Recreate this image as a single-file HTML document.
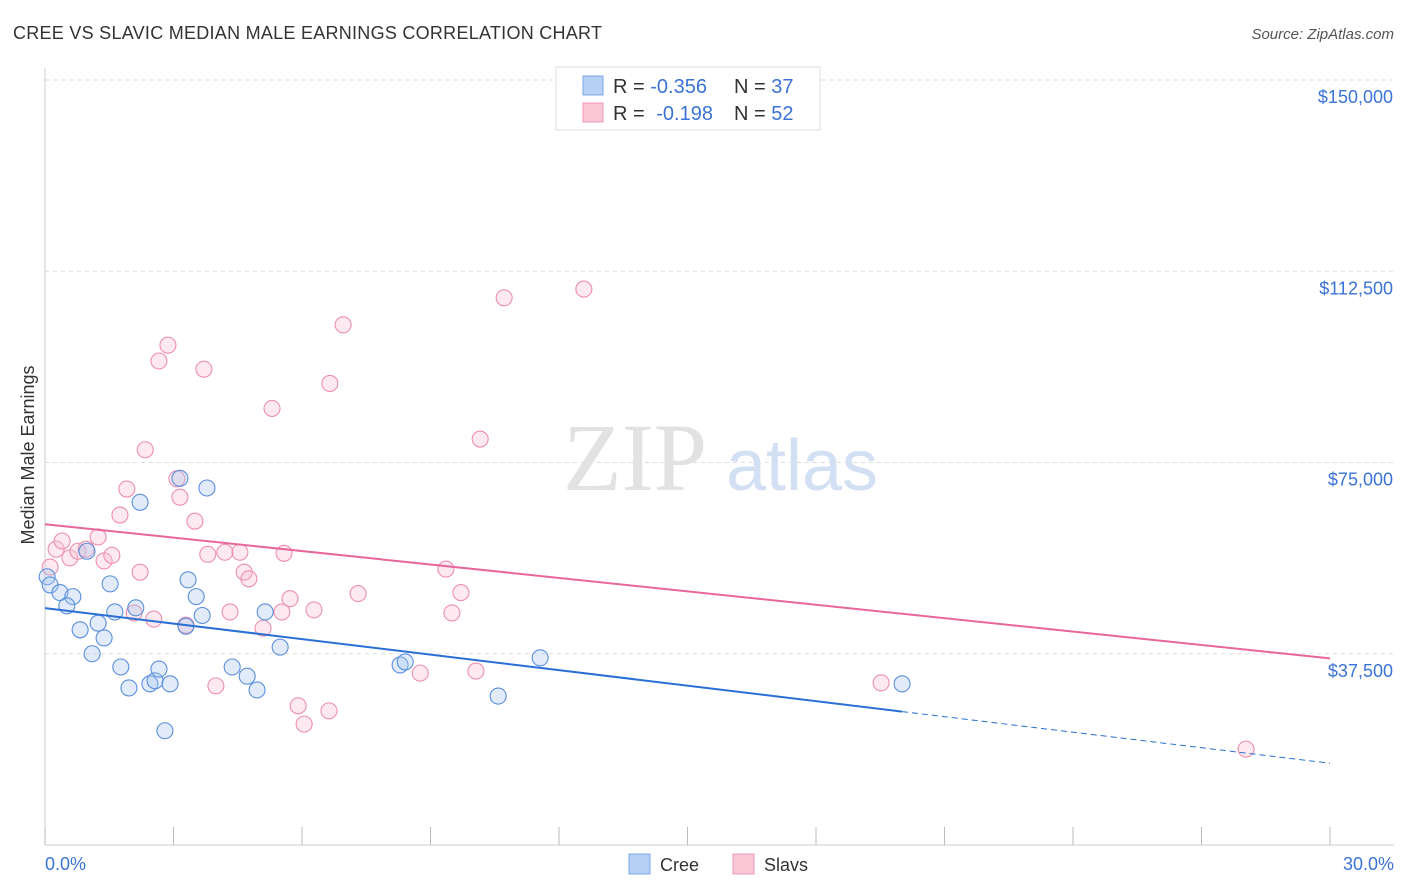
<!DOCTYPE html>
<html><head><meta charset="utf-8"><style>
body{margin:0;background:#fff;font-family:"Liberation Sans",sans-serif}
svg{display:block}
</style></head><body>
<svg id="chart" width="1406" height="892">
<text x="13" y="39" font-size="18" fill="#333" textLength="589">CREE VS SLAVIC MEDIAN MALE EARNINGS CORRELATION CHART</text>
<text x="1394" y="39" font-size="15" fill="#555" font-style="italic" text-anchor="end">Source: ZipAtlas.com</text>
<g id="grid"></g>
<text x="635" y="490" font-size="96" fill="#e2e2e2" font-family="Liberation Serif" text-anchor="middle">ZIP</text>
<text x="802" y="490" font-size="72" fill="#d3e0f3" text-anchor="middle">atlas</text>
<text transform="translate(34,455) rotate(-90)" font-size="18" fill="#333" text-anchor="middle">Median Male Earnings</text>
<g id="marks"></g>
<g>
<rect x="556" y="67" width="264" height="63" fill="#fff" stroke="#ddd"/>
<rect x="583" y="76" width="20" height="19" fill="#b7d0f5" stroke="#7ea6e6"/>
<rect x="583" y="103" width="20" height="19" fill="#f9c6d6" stroke="#ee9ab5"/>
<text x="613" y="93" font-size="20" fill="#333">R = <tspan fill="#3b73d6">-0.356</tspan><tspan x="734">N = </tspan><tspan fill="#3b73d6">37</tspan></text>
<text x="613" y="120" font-size="20" fill="#333">R = <tspan fill="#3b73d6" dx="6">-0.198</tspan><tspan x="734">N = </tspan><tspan fill="#3b73d6">52</tspan></text>
</g>
<g>
<rect x="629" y="854" width="21" height="20" fill="#b7d0f5" stroke="#7ea6e6"/>
<text x="660" y="871" font-size="18" fill="#333">Cree</text>
<rect x="733" y="854" width="21" height="20" fill="#f9c6d6" stroke="#ee9ab5"/>
<text x="764" y="871" font-size="18" fill="#333">Slavs</text>
</g>
<text x="45" y="870" font-size="18" fill="#3b73d6">0.0%</text>
<text x="1394" y="870" font-size="18" fill="#3b73d6" text-anchor="end">30.0%</text>
</svg>
<script>
const yTicks=[37500,75000,112500,150000];
const yTickLabels=["$37,500","$75,000","$112,500","$150,000"];
const xTicks=[0,3,6,9,12,15,18,21,24,27,30];
const creeX=[0.05,0.12,0.35,0.65,0.51,0.82,1.1,1.24,1.38,0.98,1.52,1.63,1.77,1.96,2.12,2.22,2.45,2.57,2.66,2.92,2.8,3.15,3.34,3.53,3.67,3.29,3.78,4.37,4.72,4.95,5.14,5.49,8.29,8.41,10.58,11.56,20.01];
const creeY=[52600,51000,49500,48700,46900,42200,37500,43500,40600,57600,51200,45700,34900,30800,46500,67200,31600,32200,34500,31600,22400,71900,52000,48700,45000,42900,70000,34900,33100,30400,45700,38800,35300,35900,29200,36700,31600];
const slavX=[0.12,0.26,0.4,0.58,0.77,0.96,1.24,1.38,1.56,1.75,1.91,2.08,2.22,2.34,2.54,2.66,2.87,3.08,3.15,3.29,3.5,3.71,3.8,3.99,4.32,4.55,4.65,4.76,4.2,5.09,5.3,5.53,5.58,5.72,5.91,6.05,6.28,6.65,6.63,6.96,7.31,8.76,9.36,9.5,9.71,10.06,10.16,10.72,12.58,19.52,28.04];
const slavY=[54500,58000,59600,56300,57600,58000,60400,55700,56800,64700,69800,45500,53500,77500,44300,94900,98000,71800,68200,43100,63500,93300,57000,31200,45700,57400,53500,52200,57400,42500,85600,45700,57200,48300,27300,23700,46100,90500,26300,102000,49300,33700,54100,45500,49500,34100,79600,107300,109000,31800,18800];
const X0=45,X1=1330,Y0=845,YMAX=150000,YTOP=80;
const xs=v=>X0+(X1-X0)*v/30, ys=v=>Y0-(Y0-YTOP)*v/YMAX;
const NS="http://www.w3.org/2000/svg";
function mk(t,a,p){const e=document.createElementNS(NS,t);for(const k in a)e.setAttribute(k,a[k]);p.appendChild(e);return e;}
const grid=document.getElementById('grid'),marks=document.getElementById('marks');
yTicks.forEach((v,i)=>{
 const l=mk('line',{x1:45,x2:1394,y1:ys(v),y2:ys(v),stroke:'#ddd','stroke-dasharray':'4,4'},grid);
 
 
 const t=mk('text',{x:1393,y:ys(v)+23,'font-size':18,fill:'#3b73d6','text-anchor':'end'},grid);
 t.textContent=yTickLabels[i];
 
 
});
mk('line',{x1:45,x2:45,y1:68,y2:845,stroke:'#ccc'},grid);
mk('line',{x1:45,x2:1394,y1:845,y2:845,stroke:'#ccc'},grid);
xTicks.forEach(v=>{const l=mk('line',{x1:xs(v),x2:xs(v),y1:827,y2:845,stroke:'#bbb'},grid);
 
 });
function fit(X,Y){const n=X.length,mx=X.reduce((a,b)=>a+b)/n,my=Y.reduce((a,b)=>a+b)/n;let sxy=0,sxx=0;for(let i=0;i<n;i++){sxy+=(X[i]-mx)*(Y[i]-my);sxx+=(X[i]-mx)**2;}const b=sxy/sxx;return [my-b*mx,b];}
function pts(X,Y,fill,stroke,name){X.forEach((x,i)=>{const c=mk('circle',{cx:xs(x),cy:ys(Y[i]),r:8,fill:fill,'fill-opacity':0.35,stroke:stroke,'stroke-width':1.1},marks);
 
 });}
pts(slavX,slavY,'#f9c0d2','#ec8fae','slavs-point');
pts(creeX,creeY,'#a9c6f2','#5a8fdc','cree-point');
let [a,b]=fit(creeX,creeY);
const xmax=Math.max(...creeX);
let l=mk('line',{x1:xs(0),y1:ys(a),x2:xs(xmax),y2:ys(a+b*xmax),stroke:'#2a6fd6','stroke-width':2},marks);


l=mk('line',{x1:xs(xmax),y1:ys(a+b*xmax),x2:xs(30),y2:ys(a+b*30),stroke:'#2a6fd6','stroke-width':1,'stroke-dasharray':'6,4'},marks);


[a,b]=fit(slavX,slavY);
l=mk('line',{x1:xs(0),y1:ys(a),x2:xs(30),y2:ys(a+b*30),stroke:'#e8679a','stroke-width':2},marks);


</script>
</body></html>
